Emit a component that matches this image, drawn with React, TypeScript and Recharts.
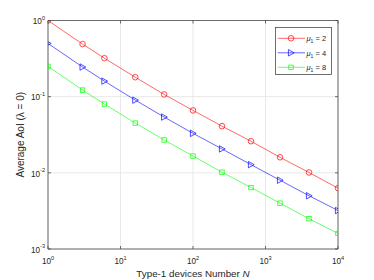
import { CartesianGrid, Label, Legend, Line, LineChart, XAxis, YAxis } from 'recharts'

// Type-1 device counts (x) and average AoI per service rate (y)
const devices = [1, 3, 6, 16, 40, 100, 251, 631, 1585, 3981, 10000]
const aoiMu2 = [1, 0.49, 0.32, 0.18, 0.107, 0.066, 0.041, 0.026, 0.016, 0.0101, 0.0063]
const aoiMu4 = [0.5, 0.245, 0.16, 0.09, 0.054, 0.033, 0.0206, 0.0128, 0.008, 0.005, 0.0032]
const aoiMu8 = [0.25, 0.122, 0.08, 0.045, 0.027, 0.0166, 0.0102, 0.0064, 0.004, 0.0025, 0.0016]

const xTicks = [1, 10, 100, 1000, 10000]
const yTicks = [0.001, 0.01, 0.1, 1]

const series = [
  { key: 'mu2', mu: '2', color: '#ff0000', marker: 'circle' },
  { key: 'mu4', mu: '4', color: '#0000ff', marker: 'triangle' },
  { key: 'mu8', mu: '8', color: '#00ff00', marker: 'square' },
]

const data = devices.map((n, i) => ({
  n,
  mu2: aoiMu2[i],
  mu4: aoiMu4[i],
  mu8: aoiMu8[i],
}))

const AXIS = '#4a4a4a'
const TEXT = '#262626'
const FONT = '"Liberation Sans", Arial, Helvetica, sans-serif'

function Marker({ cx, cy, color, shape }: { cx?: number; cy?: number; color: string; shape: string }) {
  if (cx == null || cy == null) return null
  const common = { fill: 'none', stroke: color, strokeWidth: 0.7 }
  if (shape === 'circle') return <circle cx={cx} cy={cy} r={2.8} {...common} />
  if (shape === 'triangle')
    return <polygon points={`${cx - 2.6},${cy - 3.2} ${cx - 2.6},${cy + 3.2} ${cx + 3.2},${cy}`} {...common} />
  return <rect x={cx - 2.2} y={cy - 2.2} width={4.4} height={4.4} {...common} />
}

function exponent(v: number) {
  return Math.round(Math.log10(v))
}

function BottomTick({ x, y, payload }: any) {
  return (
    <g>
      <line x1={x} y1={y} x2={x} y2={y - 3} stroke={AXIS} strokeWidth={0.8} />
      <text x={x} y={y + 15} textAnchor="middle" fontSize={8.2} fill={TEXT} fontFamily={FONT}>
        10<tspan dy={-4.5} fontSize={5.6}>{exponent(payload.value)}</tspan>
      </text>
    </g>
  )
}

function LeftTick({ x, y, payload }: any) {
  return (
    <g>
      <line x1={x} y1={y} x2={x + 3} y2={y} stroke={AXIS} strokeWidth={0.8} />
      <text x={x - 3} y={y + 3.8} textAnchor="end" fontSize={8.2} fill={TEXT} fontFamily={FONT}>
        10<tspan dy={-4.5} fontSize={5.6}>{exponent(payload.value)}</tspan>
      </text>
    </g>
  )
}

function TopTick({ x, y }: any) {
  return <line x1={x} y1={y} x2={x} y2={y + 3} stroke={AXIS} strokeWidth={0.8} />
}

function RightTick({ x, y }: any) {
  return <line x1={x} y1={y} x2={x - 3} y2={y} stroke={AXIS} strokeWidth={0.8} />
}

function XTitle({ viewBox }: any) {
  const vb = viewBox ?? { x: 48, y: 249, width: 290 }
  return (
    <text x={vb.x + vb.width / 2} y={vb.y + 28} textAnchor="middle" fontSize={9.8} fill={TEXT} fontFamily={FONT}>
      Type-1 devices Number <tspan fontStyle="italic">N</tspan>
    </text>
  )
}

function YTitle({ viewBox }: any) {
  const vb = viewBox ?? { x: 47, y: 20, width: 1, height: 229 }
  const cx = vb.x + vb.width - 24.5
  const cy = vb.y + vb.height / 2
  return (
    <text
      x={cx}
      y={cy}
      transform={`rotate(-90 ${cx} ${cy})`}
      textAnchor="middle"
      fontSize={10}
      fill={TEXT}
      fontFamily={FONT}
    >
      Average AoI (λ = 0)
    </text>
  )
}

function LegendBox() {
  return (
    <svg width={57} height={48} style={{ display: 'block' }}>
      <rect x={0.5} y={0.5} width={56} height={47} fill="#fff" stroke={AXIS} strokeWidth={0.8} />
      {series.map((s, i) => {
        const cy = 11.3 + i * 14.5
        return (
          <g key={s.key}>
            <line x1={2.7} y1={cy} x2={30} y2={cy} stroke={s.color} strokeWidth={0.6} />
            <Marker cx={16} cy={cy} color={s.color} shape={s.marker} />
            <text x={31.5} y={cy + 2.8} fontSize={7.5} fill={TEXT} fontFamily={FONT}>
              <tspan fontStyle="italic">μ</tspan>
              <tspan dy={2} fontSize={5}>1</tspan>
              <tspan dy={-2}> = {s.mu}</tspan>
            </text>
          </g>
        )
      })}
    </svg>
  )
}

const axisLine = { stroke: AXIS, strokeWidth: 0.8 }

export default function App() {
  return (
    <div style={{ position: 'absolute', left: 0, top: 0, width: 374, height: 280, background: '#fff' }}>
      <LineChart width={374} height={280} data={data} margin={{ top: 19.5, right: 35, bottom: 30, left: 47 }}>
        <CartesianGrid stroke="#e3e3e3" strokeWidth={0.8} />
        <XAxis
          dataKey="n"
          type="number"
          scale="log"
          domain={[1, 10000]}
          ticks={xTicks}
          interval={0}
          allowDataOverflow
          height={1}
          tickSize={0}
          tickMargin={0}
          tick={<BottomTick />}
          axisLine={axisLine}
          tickLine={false}
        >
          <Label content={<XTitle />} />
        </XAxis>
        <XAxis
          xAxisId="top"
          orientation="top"
          dataKey="n"
          type="number"
          scale="log"
          domain={[1, 10000]}
          ticks={xTicks}
          interval={0}
          allowDataOverflow
          height={1}
          tickSize={0}
          tickMargin={0}
          tick={<TopTick />}
          axisLine={axisLine}
          tickLine={false}
        />
        <YAxis
          type="number"
          scale="log"
          domain={[0.001, 1]}
          ticks={yTicks}
          interval={0}
          allowDataOverflow
          width={1}
          tickSize={0}
          tickMargin={0}
          tick={<LeftTick />}
          axisLine={axisLine}
          tickLine={false}
        >
          <Label content={<YTitle />} />
        </YAxis>
        <YAxis
          yAxisId="right"
          orientation="right"
          type="number"
          scale="log"
          domain={[0.001, 1]}
          ticks={yTicks}
          interval={0}
          allowDataOverflow
          width={1}
          tickSize={0}
          tickMargin={0}
          tick={<RightTick />}
          axisLine={axisLine}
          tickLine={false}
        />
        <Legend
          layout="vertical"
          align="center"
          verticalAlign="middle"
          content={() => <LegendBox />}
          wrapperStyle={{ left: 275, top: 27, width: 57, height: 48 }}
        />
        {series.map((s) => (
          <Line
            key={s.key}
            dataKey={s.key}
            stroke={s.color}
            strokeWidth={0.6}
            isAnimationActive={false}
            dot={(p: any) => <Marker key={`${s.key}-${p.index}`} cx={p.cx} cy={p.cy} color={s.color} shape={s.marker} />}
            activeDot={false}
          />
        ))}
      </LineChart>
    </div>
  )
}
